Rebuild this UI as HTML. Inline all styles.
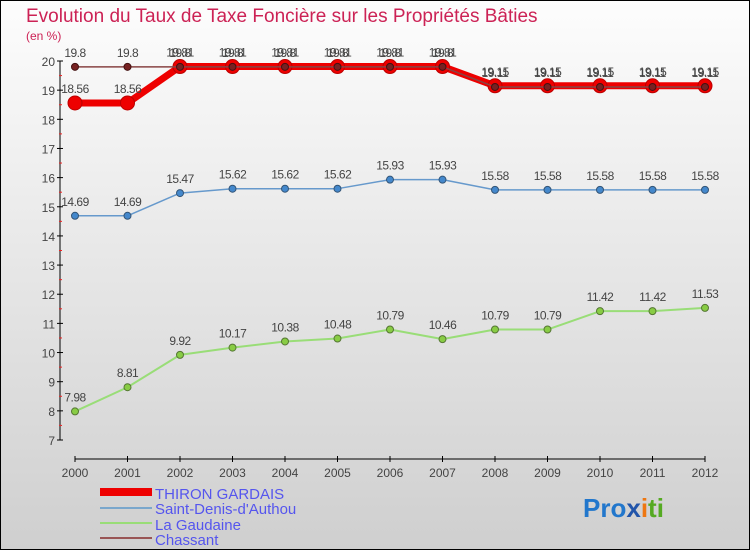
<!DOCTYPE html>
<html><head><meta charset="utf-8"><style>
body{margin:0}
#c{width:750px;height:550px;position:relative;font-family:"Liberation Sans",sans-serif}
</style></head><body>
<div id="c">
<svg id="s" width="750" height="550" xmlns="http://www.w3.org/2000/svg">
<defs><linearGradient id="bg" x1="0" y1="0" x2="0" y2="1"><stop offset="0" stop-color="#fdfdfd"/><stop offset="1" stop-color="#cfcfcf"/></linearGradient></defs>
<rect x="0.5" y="0.5" width="749" height="549" fill="url(#bg)" stroke="#000"/>
<text x="26" y="22" font-size="19" fill="#cc2255">Evolution du Taux de Taxe Foncière sur les Propriétés Bâties</text>
<text x="26" y="40" font-size="12" fill="#cc2255">(en %)</text>
<g id="axes"></g><g id="series"></g>
<g font-size="15" fill="#5555ee">
<rect x="100" y="488" width="52" height="8" fill="#e00"/>
<text x="155" y="499">THIRON GARDAIS</text>
<rect x="100" y="507" width="52" height="2" fill="#7aa7cc"/>
<text x="155" y="514">Saint-Denis-d'Authou</text>
<rect x="100" y="522" width="52" height="2" fill="#99dd77"/>
<text x="155" y="530">La Gaudaine</text>
<rect x="100" y="537" width="52" height="2" fill="#995555"/>
<text x="155" y="545">Chassant</text>
</g>
<text x="583" y="517" font-size="26" font-weight="bold"><tspan fill="#2277cc">Pro</tspan><tspan fill="#2255aa">x</tspan><tspan fill="#ee7711">i</tspan><tspan fill="#55aa22">ti</tspan></text>
</svg></div>
<script>
const years=[2000,2001,2002,2003,2004,2005,2006,2007,2008,2009,2010,2011,2012];
const thiron=[18.56,18.56,19.81,19.81,19.81,19.81,19.81,19.81,19.15,19.15,19.15,19.15,19.15];
const saintDenis=[14.69,14.69,15.47,15.62,15.62,15.62,15.93,15.93,15.58,15.58,15.58,15.58,15.58];
const gaudaine=[7.98,8.81,9.92,10.17,10.38,10.48,10.79,10.46,10.79,10.79,11.42,11.42,11.53];
const chassant=[19.8,19.8,19.8,19.8,19.8,19.8,19.8,19.8,19.11,19.11,19.11,19.11,19.11];
const yTicks=[7,8,9,10,11,12,13,14,15,16,17,18,19,20];
const NS="http://www.w3.org/2000/svg";
const xs=i=>75+i*(630/(years.length-1));
const ys=v=>440-(v-7)*(379/13);
function mk(t,a,p){const e=document.createElementNS(NS,t);for(const k in a)e.setAttribute(k,a[k]);p.appendChild(e);return e;}
const ax=document.getElementById('axes');
let l=mk('line',{x1:60,y1:ys(20),x2:60,y2:ys(7),stroke:'#000'},ax);


l=mk('line',{x1:75,y1:459,x2:705,y2:459,stroke:'#000'},ax);


yTicks.forEach(v=>{
 mk('line',{x1:57,y1:ys(v),x2:63,y2:ys(v),stroke:'#000'},ax);
 if(v<20)mk('line',{x1:59,y1:ys(v+0.5),x2:62,y2:ys(v+0.5),stroke:'#e22'},ax);
 const t=mk('text',{x:55,y:ys(v)+5,'text-anchor':'end','font-size':12,fill:'#444'},ax);t.textContent=v;
 
 
});
years.forEach((y,i)=>{
 mk('line',{x1:xs(i),y1:456,x2:xs(i),y2:462,stroke:'#000'},ax);
 const t=mk('text',{x:xs(i),y:477,'text-anchor':'middle','font-size':12,fill:'#444'},ax);t.textContent=y;
 
 
});
const sg=document.getElementById('series');
function series(name,vals,color,w,r,dot,dotStroke){
 const g=mk('g',{},sg);
 
 
 const p=mk('polyline',{points:vals.map((v,i)=>xs(i)+','+ys(v)).join(' '),fill:'none',stroke:color,'stroke-width':w,'stroke-linejoin':'round'},g);
 
 
 vals.forEach((v,i)=>{
  const c=mk('circle',{cx:xs(i),cy:ys(v),r:r,fill:dot,stroke:dotStroke,'stroke-width':1},g);
  
  
  const t=mk('text',{x:xs(i),y:ys(v)-10,'text-anchor':'middle','font-size':12,fill:'#444','letter-spacing':'-0.5'},g);
  t.textContent=v;
  
  
 });
}
series('gaudaine',gaudaine,'#99dd77',2,3.5,'#88cc44','#557733');
series('saint-denis',saintDenis,'#6699cc',1.5,3.5,'#4488cc','#335577');
series('thiron',thiron,'#e00',7,7,'#e00','#b00');
series('chassant',chassant,'#884444',1.5,3.5,'#772222','#441111');
</script>
</body></html>
